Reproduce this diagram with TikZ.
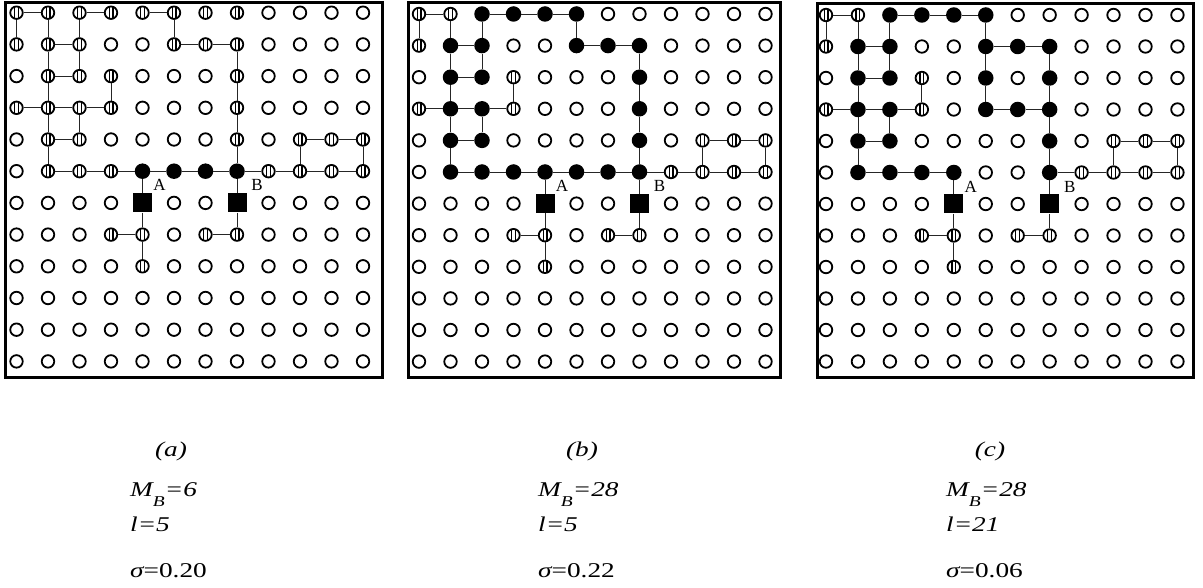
\documentclass[tikz,border=0pt]{standalone}
\usepackage{fontspec}
\setmainfont{Liberation Serif}
\usepackage{graphicx}
\tikzset{
  cell/.style={circle, inner sep=0pt, minimum size=12.5pt, line width=1.8pt, draw=black, fill=white},
  nO/.style={cell},
  nH/.style={cell, path picture={
      \draw[line width=1.2pt] ([xshift=-1.9pt]path picture bounding box.north) -- ([xshift=-1.9pt]path picture bounding box.south);
      \draw[line width=1.2pt] ([xshift=1.9pt]path picture bounding box.north) -- ([xshift=1.9pt]path picture bounding box.south);}},
  nF/.style={circle, inner sep=0pt, minimum size=15.5pt, fill=black},
  nS/.style={rectangle, inner sep=0pt, minimum size=19pt, fill=black},
  link/.style={line width=0.9pt, black!85},
  panelframe/.style={line width=3pt},
  lab/.style={font=\fontsize{17}{17}\selectfont, inner sep=0pt, anchor=south west},
  captxt/.style={font=\fontsize{21}{23}\selectfont\itshape, inner sep=0pt, anchor=base west},
}
\newcommand{\mypanel}[7]{%
  \begin{scope}[shift={(#2pt,-#3pt)}, x=#4pt, y=-#5pt]
    \foreach \rw [count=\r from 0] in {#6} {
      \foreach \ty [count=\c from 0] in \rw {
        \node[n\ty] (#1-\r-\c) at (\c,\r) {};
      }
    }
    \foreach \p/\q in {#7} \draw[link] (#1-\p) -- (#1-\q);
  \end{scope}
  \node[lab] (#1-A) at ([xshift=1pt,yshift=2pt]#1-6-4.north east) {A};
  \node[lab] (#1-B) at ([xshift=4.5pt,yshift=2pt]#1-6-7.north east) {B};
}
\newcommand{\sx}[1]{\scalebox{1.3}[1]{#1}}
\newcommand{\subB}{\raisebox{-10pt}{\fontsize{15}{15}\selectfont B}}
\begin{document}
\begin{tikzpicture}[x=1pt, y=-1pt]
\useasboundingbox (0,0) rectangle (1203,588);
% frames
\draw[panelframe] (5,3) rectangle (382,377);
\draw[panelframe] (408,3) rectangle (780,377);
\draw[panelframe] (817,4) rectangle (1193,377);
% panel (a)
\mypanel{a}{16.5}{12.7}{31.5}{31.7}{
 {H,H,H,H,H,H,H,H,O,O,O,O},
 {H,H,H,O,O,H,H,H,O,O,O,O},
 {O,H,H,H,O,O,O,H,O,O,O,O},
 {H,H,H,H,O,O,O,H,O,O,O,O},
 {O,H,H,O,O,O,O,H,O,H,H,H},
 {O,H,H,H,F,F,F,F,H,H,H,H},
 {O,O,O,O,S,O,O,S,O,O,O,O},
 {O,O,O,H,H,O,H,H,O,O,O,O},
 {O,O,O,O,H,O,O,O,O,O,O,O},
 {O,O,O,O,O,O,O,O,O,O,O,O},
 {O,O,O,O,O,O,O,O,O,O,O,O},
 {O,O,O,O,O,O,O,O,O,O,O,O}}{
 0-0/0-1, 0-2/0-3, 0-4/0-5, 1-1/1-2, 1-5/1-6, 1-6/1-7, 2-1/2-2,
 3-0/3-1, 3-1/3-2, 3-2/3-3, 4-1/4-2, 4-9/4-10, 4-10/4-11,
 5-1/5-2, 5-2/5-3, 5-3/5-4, 5-4/5-5, 5-5/5-6, 5-6/5-7, 5-7/5-8, 5-8/5-9, 5-9/5-10, 5-10/5-11,
 7-3/7-4, 7-6/7-7,
 0-0/1-0, 0-1/1-1, 1-1/2-1, 2-1/3-1, 3-1/4-1, 4-1/5-1, 0-2/1-2, 1-2/2-2, 0-5/1-5,
 2-3/3-3, 3-2/4-2, 1-7/2-7, 2-7/3-7, 3-7/4-7, 4-7/5-7, 4-9/5-9, 4-11/5-11,
 5-4/6-4, 6-4/7-4, 7-4/8-4, 5-7/6-7, 6-7/7-7}
% panel (b)
\mypanel{b}{419}{14}{31.5}{31.6}{
 {H,H,F,F,F,F,O,O,O,O,O,O},
 {H,F,F,O,O,F,F,F,O,O,O,O},
 {O,F,F,H,O,O,O,F,O,O,O,O},
 {H,F,F,H,O,O,O,F,O,O,O,O},
 {O,F,F,O,O,O,O,F,O,H,H,H},
 {O,F,F,F,F,F,F,F,H,H,H,H},
 {O,O,O,O,S,O,O,S,O,O,O,O},
 {O,O,O,H,H,O,H,H,O,O,O,O},
 {O,O,O,O,H,O,O,O,O,O,O,O},
 {O,O,O,O,O,O,O,O,O,O,O,O},
 {O,O,O,O,O,O,O,O,O,O,O,O},
 {O,O,O,O,O,O,O,O,O,O,O,O}}{
 0-0/0-1, 0-2/0-3, 0-3/0-4, 0-4/0-5, 1-1/1-2, 1-5/1-6, 1-6/1-7, 2-1/2-2,
 3-0/3-1, 3-1/3-2, 3-2/3-3, 4-1/4-2, 4-9/4-10, 4-10/4-11,
 5-1/5-2, 5-2/5-3, 5-3/5-4, 5-4/5-5, 5-5/5-6, 5-6/5-7, 5-7/5-8, 5-8/5-9, 5-9/5-10, 5-10/5-11,
 7-3/7-4, 7-6/7-7,
 0-0/1-0, 0-1/1-1, 1-1/2-1, 2-1/3-1, 3-1/4-1, 4-1/5-1, 0-2/1-2, 1-2/2-2, 0-5/1-5,
 2-3/3-3, 3-2/4-2, 1-7/2-7, 2-7/3-7, 3-7/4-7, 4-7/5-7, 4-9/5-9, 4-11/5-11,
 5-4/6-4, 6-4/7-4, 7-4/8-4, 5-7/6-7, 6-7/7-7}
% panel (c)
\mypanel{c}{826}{15}{31.95}{31.5}{
 {H,H,F,F,F,F,O,O,O,O,O,O},
 {H,F,F,O,O,F,F,F,O,O,O,O},
 {O,F,F,H,O,F,O,F,O,O,O,O},
 {H,F,F,H,O,F,F,F,O,O,O,O},
 {O,F,F,O,O,O,O,F,O,H,H,H},
 {O,F,F,F,F,O,O,F,H,H,H,H},
 {O,O,O,O,S,O,O,S,O,O,O,O},
 {O,O,O,H,H,O,H,H,O,O,O,O},
 {O,O,O,O,H,O,O,O,O,O,O,O},
 {O,O,O,O,O,O,O,O,O,O,O,O},
 {O,O,O,O,O,O,O,O,O,O,O,O},
 {O,O,O,O,O,O,O,O,O,O,O,O}}{
 0-0/0-1, 0-2/0-3, 0-3/0-4, 0-4/0-5, 1-1/1-2, 1-5/1-6, 1-6/1-7, 2-1/2-2,
 3-0/3-1, 3-1/3-2, 3-2/3-3, 3-5/3-6, 3-6/3-7, 4-1/4-2, 4-9/4-10, 4-10/4-11,
 5-1/5-2, 5-2/5-3, 5-3/5-4, 5-7/5-8, 5-8/5-9, 5-9/5-10, 5-10/5-11,
 7-3/7-4, 7-6/7-7,
 0-0/1-0, 0-1/1-1, 1-1/2-1, 2-1/3-1, 3-1/4-1, 4-1/5-1, 0-2/1-2, 1-2/2-2,
 0-5/1-5, 1-5/2-5, 2-5/3-5,
 2-3/3-3, 3-2/4-2, 1-7/2-7, 2-7/3-7, 3-7/4-7, 4-7/5-7, 4-9/5-9, 4-11/5-11,
 5-4/6-4, 6-4/7-4, 7-4/8-4, 5-7/6-7, 6-7/7-7}
% captions
\node[captxt, anchor=base] (capa) at (171,456) {\sx{(a)}};
\node[captxt] (ma) at (130,496) {\sx{M\subB=6}};
\node[captxt] (la) at (130,531) {\sx{l=5}};
\node[captxt] (sa) at (130,577) {\sx{σ\upshape=0.20}};
\node[captxt, anchor=base] (capb) at (582,456) {\sx{(b)}};
\node[captxt] (mb) at (538,496) {\sx{M\subB=28}};
\node[captxt] (lb) at (538,531) {\sx{l=5}};
\node[captxt] (sb) at (538,577) {\sx{σ\upshape=0.22}};
\node[captxt, anchor=base] (capc) at (990,456) {\sx{(c)}};
\node[captxt] (mc) at (946,496) {\sx{M\subB=28}};
\node[captxt] (lc) at (946,531) {\sx{l=21}};
\node[captxt] (sc) at (946,577) {\sx{σ\upshape=0.06}};
\end{tikzpicture}
\end{document}
